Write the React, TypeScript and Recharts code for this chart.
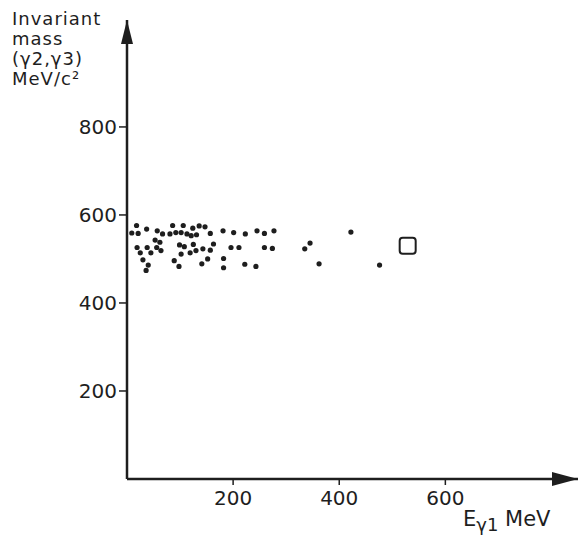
import React from 'react';
import { ScatterChart, Scatter, XAxis, YAxis, ReferenceDot } from 'recharts';

// events: E_gamma1 (MeV) vs invariant mass of gamma2, gamma3 (MeV/c^2)
const energy = [
  9, 18, 21, 37, 57, 67, 81, 86, 92, 102, 106, 113, 121, 124, 131, 136, 147, 157, 181, 201, 223, 245, 259, 277,
  53, 62, 19, 25, 38, 45, 56, 64, 99, 108, 125, 102, 119, 130, 143, 157, 163, 196, 211, 259, 274, 335, 345,
  30, 40, 36, 89, 98, 141, 152, 182, 182, 222, 243, 362, 422, 476,
];
const mass = [
  559, 576, 558, 568, 564, 557, 557, 576, 560, 560, 576, 557, 553, 570, 555, 575, 573, 558, 564, 560, 557, 564, 558, 564,
  543, 538, 526, 514, 526, 514, 526, 519, 532, 528, 533, 511, 514, 519, 523, 520, 534, 526, 526, 526, 524, 523, 536,
  498, 486, 474, 496, 483, 489, 500, 501, 480, 488, 483, 489, 561, 486,
];
const boxEnergy = [529];
const boxMass = [530];

const xTicks = [200, 400, 600];
const yTicks = [200, 400, 600, 800];

const points = energy.map((e, i) => ({ e, m: mass[i] }));
const boxes = boxEnergy.map((e, i) => ({ e, m: boxMass[i] }));

const INK = '#1e1e1e';
const FONT = '"DejaVu Sans", sans-serif';

const Dot = (props: any) => <circle cx={props.cx} cy={props.cy} r={2.6} fill={INK} />;
const Box = (props: any) => (
  <rect x={props.cx - 8} y={props.cy - 8} width={16} height={16} rx={3} fill="none" stroke={INK} strokeWidth={2} />
);
const ArrowRight = (props: any) => (
  <path d={`M${props.cx},${props.cy} L${props.cx - 26},${props.cy - 7} L${props.cx - 26},${props.cy + 7} Z`} fill={INK} />
);
const ArrowUp = (props: any) => (
  <path d={`M${props.cx},${props.cy} L${props.cx - 6},${props.cy + 24} L${props.cx + 6},${props.cy + 24} Z`} fill={INK} />
);

export default function App() {
  return (
    <div style={{ position: 'absolute', left: 0, top: 0, width: 580, height: 535, background: '#fff', fontFamily: FONT, color: INK }}>
      <ScatterChart width={580} height={535} margin={{ top: 20, right: 2, bottom: 0, left: 0 }}>
        <XAxis
          type="number"
          dataKey="e"
          domain={[0, 850]}
          ticks={xTicks}
          axisLine={{ stroke: INK, strokeWidth: 2.5 }}
          tickLine={{ stroke: INK, strokeWidth: 1.5 }}
          tickSize={6}
          tickMargin={6}
          height={56}
          tick={{ fill: INK, fontSize: 20, fontFamily: FONT }}
          allowDataOverflow
        />
        <YAxis
          type="number"
          dataKey="m"
          domain={[0, 1043]}
          ticks={yTicks}
          axisLine={{ stroke: INK, strokeWidth: 2.5 }}
          tickLine={{ stroke: INK, strokeWidth: 1.5 }}
          tickSize={8}
          tickMargin={2}
          width={127}
          tick={{ fill: INK, fontSize: 20, fontFamily: FONT }}
          allowDataOverflow
        />
        <Scatter data={points} shape={Dot} isAnimationActive={false} />
        <Scatter data={boxes} shape={Box} isAnimationActive={false} />
        <ReferenceDot x={850} y={0} r={0} ifOverflow="visible" shape={ArrowRight} />
        <ReferenceDot x={0} y={1043} r={0} ifOverflow="visible" shape={ArrowUp} />
      </ScatterChart>
      <div style={{ position: 'absolute', left: 12, top: 9, fontSize: 18, lineHeight: '20px', letterSpacing: 1 }}>
        Invariant
        <br />
        mass
        <br />
        (γ2,γ3)
        <br />
        MeV/c²
      </div>
      <div style={{ position: 'absolute', left: 463, top: 507, fontSize: 21 }}>
        E<sub style={{ fontSize: 18 }}>γ1</sub> MeV
      </div>
    </div>
  );
}
